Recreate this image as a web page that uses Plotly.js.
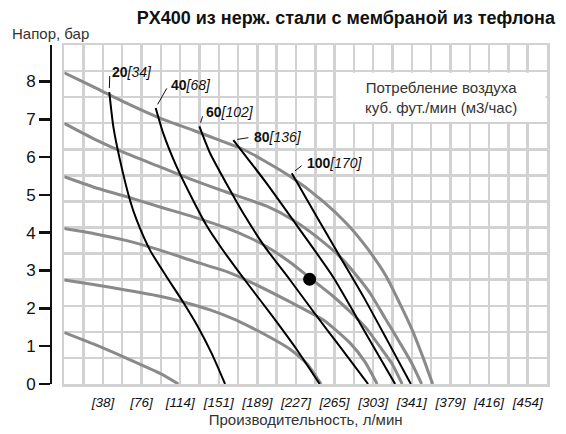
<!DOCTYPE html>
<html><head><meta charset="utf-8">
<script src="https://cdn.plot.ly/plotly-3.0.1.min.js"></script>
<style>html,body{margin:0;padding:0;background:#fff}#chart{width:566px;height:434px}</style>
</head><body><div id="chart"></div>
<script>
const LPM_PER_GPM = 3.78541;
const BAR_PER_PSI = 0.0689476;
const FLOW_MAX_GPM = 125;
const HEAD_MAX_PSI = 130;

// axis ticks
const flowTickGpm = [10, 20, 30, 40, 50, 60, 70, 80, 90, 100, 110, 120];
const flowTickText = ['[38]', '[76]', '[114]', '[151]', '[189]', '[227]', '[265]', '[303]', '[341]', '[379]', '[416]', '[454]'];
const headTicks = [0, 1, 2, 3, 4, 5, 6, 7, 8];

// grey head curves: flow (l/min), head (bar)
const head1Flow = [0, 28.1, 61.5, 93.8, 126.2, 152.7, 177.2, 196.8, 221.3, 253.7, 277.2, 296.9, 315.5, 329.2, 341.0, 351.8, 361.1];
const head1Bar  = [8.23, 7.86, 7.42, 7.03, 6.71, 6.44, 6.18, 5.89, 5.49, 4.83, 4.23, 3.59, 2.85, 2.11, 1.43, 0.69, 0];
const head2Flow = [0, 28.4, 61.2, 93.9, 126.5, 159.3, 182.1, 198.5, 224.6, 247.5, 270.4, 290.0, 299.8, 314.5, 329.2, 341.0, 350.3];
const head2Bar  = [6.89, 6.49, 6.09, 5.74, 5.39, 5.07, 4.86, 4.70, 4.33, 3.89, 3.36, 2.75, 2.40, 1.74, 1.08, 0.53, 0];
const head3Flow = [0, 28.4, 61.2, 93.9, 126.5, 159.3, 182.1, 198.5, 221.3, 241.0, 263.5, 280.2, 294.9, 309.6, 321.4, 331.2];
const head3Bar  = [5.48, 5.21, 4.95, 4.68, 4.42, 4.12, 3.86, 3.63, 3.22, 2.80, 2.32, 1.91, 1.51, 0.98, 0.53, 0];
const head4Flow = [0, 28.4, 61.2, 93.8, 126.5, 159.3, 182.1, 221.3, 254.0, 280.2, 294.9, 306.7];
const head4Bar  = [4.11, 3.98, 3.79, 3.54, 3.25, 2.97, 2.70, 2.17, 1.69, 1.08, 0.58, 0];
const head5Flow = [0, 28.4, 61.2, 93.9, 116.7, 142.9, 165.7, 182.1, 204.7, 221.3, 238.0, 251.7];
const head5Bar  = [2.75, 2.63, 2.48, 2.32, 2.17, 1.96, 1.72, 1.51, 1.19, 0.92, 0.53, 0];
const head6Flow = [0, 28.4, 61.2, 93.9, 111.8];
const head6Bar  = [1.36, 1.06, 0.68, 0.28, 0];

// black air consumption curves: flow (l/min), head (bar)
const air20Flow  = [44.1, 48.1, 54.6, 64.4, 71.0, 84.0, 100.4, 116.4, 131.1, 144.8, 157.6];
const air20Bar   = [7.72, 6.80, 5.92, 4.86, 4.33, 3.54, 2.83, 2.17, 1.51, 0.79, 0];
const air40Flow  = [89.6, 97.1, 110.2, 126.2, 139.9, 154.7, 179.2, 204.7, 228.2, 250.3];
const air40Bar   = [7.30, 6.62, 5.74, 4.86, 4.17, 3.57, 2.67, 1.77, 0.90, 0];
const air60Flow  = [132.4, 142.9, 159.3, 175.3, 196.8, 221.3, 245.9, 270.4, 297.8];
const air60Bar   = [6.81, 6.10, 5.28, 4.52, 3.62, 2.75, 1.85, 0.98, 0];
const air80Flow  = [165.7, 198.5, 231.2, 263.5, 294.9, 324.3];
const air80Bar   = [6.45, 5.30, 4.07, 2.83, 1.37, 0];
const air100Flow = [223.0, 247.5, 270.4, 293.2, 316.5, 339.7];
const air100Bar  = [5.57, 4.42, 3.36, 2.31, 1.16, 0];

const airScfm = [20, 40, 60, 80, 100];
const airM3h  = [34, 68, 102, 136, 170];

// marked duty point
const pointFlow = [240.5];
const pointBar  = [2.77];

const SANS = '"Liberation Sans", Arial, sans-serif';
const GRID = '#d2d2d2';

const headFlows = [head1Flow, head2Flow, head3Flow, head4Flow, head5Flow, head6Flow];
const headBars  = [head1Bar, head2Bar, head3Bar, head4Bar, head5Bar, head6Bar];
const airFlows  = [air20Flow, air40Flow, air60Flow, air80Flow, air100Flow];
const airBars   = [air20Bar, air40Bar, air60Bar, air80Bar, air100Bar];

const traces = [];
headFlows.forEach((f, i) => traces.push({
  x: f, y: headBars[i], xaxis: 'x', yaxis: 'y2', mode: 'lines', hoverinfo: 'skip',
  line: {color: '#8a8a8a', width: 3, shape: 'spline', smoothing: 0.6}
}));
airFlows.forEach((f, i) => traces.push({
  x: f, y: airBars[i], xaxis: 'x', yaxis: 'y2', mode: 'lines', hoverinfo: 'skip',
  line: {color: '#000', width: 2, shape: 'spline', smoothing: 0.6}
}));
traces.push({
  x: pointFlow, y: pointBar, xaxis: 'x', yaxis: 'y2', mode: 'markers', hoverinfo: 'skip',
  marker: {color: '#000', size: 13}
});

// curve labels
const labelOffsets = [[0.5, -20], [13, -23], [4.5, -14], [19, -3], [13, -10]];
const annotations = airScfm.map((s, i) => ({
  x: airFlows[i][0], y: airBars[i][0], xref: 'x', yref: 'y2',
  text: '<b>' + s + '</b><i>[' + airM3h[i] + ']</i>',
  showarrow: true, arrowhead: 0, arrowwidth: 1, arrowcolor: '#111',
  ax: labelOffsets[i][0], ay: labelOffsets[i][1], xanchor: 'left', yanchor: 'middle',
  standoff: 4, startstandoff: 4,
  font: {family: SANS, size: 14, color: '#111'}
}));
annotations.push({
  x: 97.5 * LPM_PER_GPM, y: 110, xref: 'x', yref: 'y',
  text: 'Потребление воздуха<br>куб. фут./мин (м3/час)', showarrow: false,
  font: {family: SANS, size: 15, color: '#333'}
});
annotations.push({
  x: -0.0805, y: 1.035, xref: 'paper', yref: 'paper', xanchor: 'left', yanchor: 'middle',
  text: 'Напор, бар', showarrow: false,
  font: {family: SANS, size: 15, color: '#333'}
});

const layout = {
  width: 566, height: 434, autosize: false,
  margin: {l: 50, r: 19, t: 45, b: 50},
  paper_bgcolor: '#fff', plot_bgcolor: '#fff',
  showlegend: false,
  font: {family: SANS, color: '#111'},
  title: {
    text: '<b>PX400 из нерж. стали с мембраной из тефлона</b>',
    font: {family: SANS, size: 18, color: '#111'},
    xref: 'container', x: 555 / 566, xanchor: 'right',
    yref: 'container', y: 1 - 18 / 434, yanchor: 'middle'
  },
  xaxis: {
    domain: [14.3 / 497, 1],
    range: [0, FLOW_MAX_GPM * LPM_PER_GPM],
    tickvals: flowTickGpm.map(g => g * LPM_PER_GPM),
    ticktext: flowTickText,
    ticks: 'outside', ticklen: 4, tickcolor: 'rgba(0,0,0,0)',
    tickfont: {family: SANS, size: 13.5, style: 'italic', color: '#111'},
    showgrid: true, gridcolor: GRID, gridwidth: 2.5,
    minor: {dtick: 5 * LPM_PER_GPM, tick0: 0, showgrid: true, gridcolor: GRID, gridwidth: 2.5, ticks: ''},
    zeroline: false, showline: true, mirror: true, linecolor: GRID, linewidth: 2.5,
    fixedrange: true,
    title: {text: 'Производительность, л/мин', font: {family: SANS, size: 15, color: '#333'}, standoff: 6}
  },
  yaxis: {
    range: [0, HEAD_MAX_PSI], dtick: 10, tick0: 0,
    showticklabels: false, ticks: '',
    showgrid: true, gridcolor: GRID, gridwidth: 2.5,
    zeroline: false, showline: true, mirror: true, linecolor: GRID, linewidth: 2.5,
    fixedrange: true
  },
  yaxis2: {
    overlaying: 'y', anchor: 'free', position: 0.002, side: 'left',
    range: [0, HEAD_MAX_PSI * BAR_PER_PSI],
    tickvals: headTicks,
    ticks: 'outside', ticklen: 11, tickwidth: 2.5, tickcolor: '#111',
    tickfont: {family: SANS, size: 17, color: '#111'},
    showline: true, linecolor: '#111', linewidth: 2.5,
    showgrid: false, zeroline: false, fixedrange: true
  },
  shapes: [{
    type: 'rect', xref: 'x', yref: 'y', layer: 'between',
    x0: 70.4 * LPM_PER_GPM, x1: 124.6 * LPM_PER_GPM, y0: 100.6, y1: 119.4,
    fillcolor: '#fff', line: {width: 0}
  }],
  annotations: annotations
};

Plotly.newPlot('chart', traces, layout, {staticPlot: true, displayModeBar: false});
</script>
</body></html>
